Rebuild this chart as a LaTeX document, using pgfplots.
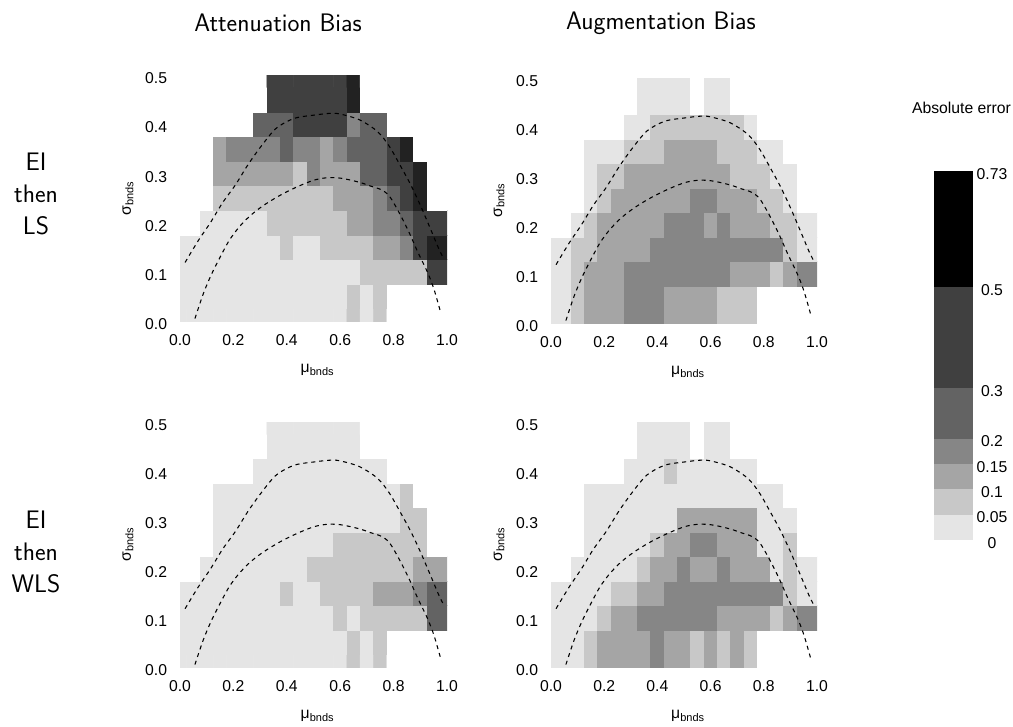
\documentclass[border=0pt]{standalone}
\usepackage{fontspec}
\setmainfont{Liberation Sans}
\usepackage{pgfplots}
\usepackage{pgfplotstable}
\pgfplotsset{compat=1.18}

\pgfplotstableread[row sep=\\]{
x y c\\
0 0 1\\0.05 0 1\\0.1 0 1\\0.15 0 1\\0.2 0 1\\0.25 0 1\\0.3 0 1\\0.35 0 1\\0.4 0 1\\0.45 0 1\\0.5 0 1\\0.55 0 1\\0.6 0 1\\0.65 0 2\\0.7 0 1\\0.75 0 2\\0.8 0 0\\0.85 0 0\\0.9 0 0\\0.95 0 0\\1 0 0\\
0 0.05 1\\0.05 0.05 1\\0.1 0.05 1\\0.15 0.05 1\\0.2 0.05 1\\0.25 0.05 1\\0.3 0.05 1\\0.35 0.05 1\\0.4 0.05 1\\0.45 0.05 1\\0.5 0.05 1\\0.55 0.05 1\\0.6 0.05 1\\0.65 0.05 2\\0.7 0.05 1\\0.75 0.05 2\\0.8 0.05 0\\0.85 0.05 0\\0.9 0.05 0\\0.95 0.05 0\\1 0.05 0\\
0 0.1 1\\0.05 0.1 1\\0.1 0.1 1\\0.15 0.1 1\\0.2 0.1 1\\0.25 0.1 1\\0.3 0.1 1\\0.35 0.1 1\\0.4 0.1 1\\0.45 0.1 1\\0.5 0.1 1\\0.55 0.1 1\\0.6 0.1 1\\0.65 0.1 1\\0.7 0.1 2\\0.75 0.1 2\\0.8 0.1 2\\0.85 0.1 2\\0.9 0.1 2\\0.95 0.1 6\\1 0.1 6\\
0 0.15 1\\0.05 0.15 1\\0.1 0.15 1\\0.15 0.15 1\\0.2 0.15 1\\0.25 0.15 1\\0.3 0.15 1\\0.35 0.15 1\\0.4 0.15 2\\0.45 0.15 1\\0.5 0.15 1\\0.55 0.15 2\\0.6 0.15 2\\0.65 0.15 2\\0.7 0.15 2\\0.75 0.15 3\\0.8 0.15 3\\0.85 0.15 4\\0.9 0.15 6\\0.95 0.15 7\\1 0.15 7\\
0 0.2 0\\0.05 0.2 0\\0.1 0.2 1\\0.15 0.2 1\\0.2 0.2 1\\0.25 0.2 1\\0.3 0.2 1\\0.35 0.2 2\\0.4 0.2 2\\0.45 0.2 2\\0.5 0.2 2\\0.55 0.2 2\\0.6 0.2 2\\0.65 0.2 3\\0.7 0.2 3\\0.75 0.2 4\\0.8 0.2 4\\0.85 0.2 5\\0.9 0.2 6\\0.95 0.2 6\\1 0.2 6\\
0 0.25 0\\0.05 0.25 0\\0.1 0.25 0\\0.15 0.25 2\\0.2 0.25 2\\0.25 0.25 2\\0.3 0.25 2\\0.35 0.25 2\\0.4 0.25 2\\0.45 0.25 2\\0.5 0.25 2\\0.55 0.25 2\\0.6 0.25 3\\0.65 0.25 3\\0.7 0.25 3\\0.75 0.25 4\\0.8 0.25 5\\0.85 0.25 6\\0.9 0.25 7\\0.95 0.25 0\\1 0.25 0\\
0 0.3 0\\0.05 0.3 0\\0.1 0.3 0\\0.15 0.3 3\\0.2 0.3 3\\0.25 0.3 3\\0.3 0.3 3\\0.35 0.3 3\\0.4 0.3 3\\0.45 0.3 2\\0.5 0.3 4\\0.55 0.3 3\\0.6 0.3 3\\0.65 0.3 3\\0.7 0.3 5\\0.75 0.3 5\\0.8 0.3 6\\0.85 0.3 6\\0.9 0.3 7\\0.95 0.3 0\\1 0.3 0\\
0 0.35 0\\0.05 0.35 0\\0.1 0.35 0\\0.15 0.35 3\\0.2 0.35 4\\0.25 0.35 4\\0.3 0.35 4\\0.35 0.35 4\\0.4 0.35 5\\0.45 0.35 4\\0.5 0.35 4\\0.55 0.35 3\\0.6 0.35 4\\0.65 0.35 5\\0.7 0.35 5\\0.75 0.35 5\\0.8 0.35 6\\0.85 0.35 7\\0.9 0.35 0\\0.95 0.35 0\\1 0.35 0\\
0 0.4 0\\0.05 0.4 0\\0.1 0.4 0\\0.15 0.4 0\\0.2 0.4 0\\0.25 0.4 0\\0.3 0.4 5\\0.35 0.4 5\\0.4 0.4 5\\0.45 0.4 6\\0.5 0.4 6\\0.55 0.4 6\\0.6 0.4 6\\0.65 0.4 4\\0.7 0.4 5\\0.75 0.4 5\\0.8 0.4 0\\0.85 0.4 0\\0.9 0.4 0\\0.95 0.4 0\\1 0.4 0\\
0 0.45 0\\0.05 0.45 0\\0.1 0.45 0\\0.15 0.45 0\\0.2 0.45 0\\0.25 0.45 0\\0.3 0.45 0\\0.35 0.45 6\\0.4 0.45 6\\0.45 0.45 6\\0.5 0.45 6\\0.55 0.45 6\\0.6 0.45 6\\0.65 0.45 7\\0.7 0.45 0\\0.75 0.45 0\\0.8 0.45 0\\0.85 0.45 0\\0.9 0.45 0\\0.95 0.45 0\\1 0.45 0\\
0 0.5 0\\0.05 0.5 0\\0.1 0.5 0\\0.15 0.5 0\\0.2 0.5 0\\0.25 0.5 0\\0.3 0.5 0\\0.35 0.5 6\\0.4 0.5 6\\0.45 0.5 6\\0.5 0.5 6\\0.55 0.5 6\\0.6 0.5 6\\0.65 0.5 7\\0.7 0.5 0\\0.75 0.5 0\\0.8 0.5 0\\0.85 0.5 0\\0.9 0.5 0\\0.95 0.5 0\\1 0.5 0\\
}\TLtab

\pgfplotstableread[row sep=\\]{
x y c\\
0 0 1\\0.05 0 1\\0.1 0 2\\0.15 0 3\\0.2 0 3\\0.25 0 3\\0.3 0 4\\0.35 0 4\\0.4 0 4\\0.45 0 3\\0.5 0 3\\0.55 0 3\\0.6 0 3\\0.65 0 2\\0.7 0 2\\0.75 0 2\\0.8 0 0\\0.85 0 0\\0.9 0 0\\0.95 0 0\\1 0 0\\
0 0.05 1\\0.05 0.05 1\\0.1 0.05 2\\0.15 0.05 3\\0.2 0.05 3\\0.25 0.05 3\\0.3 0.05 4\\0.35 0.05 4\\0.4 0.05 4\\0.45 0.05 3\\0.5 0.05 3\\0.55 0.05 3\\0.6 0.05 3\\0.65 0.05 2\\0.7 0.05 2\\0.75 0.05 2\\0.8 0.05 0\\0.85 0.05 0\\0.9 0.05 0\\0.95 0.05 0\\1 0.05 0\\
0 0.1 1\\0.05 0.1 1\\0.1 0.1 2\\0.15 0.1 3\\0.2 0.1 3\\0.25 0.1 3\\0.3 0.1 4\\0.35 0.1 4\\0.4 0.1 4\\0.45 0.1 4\\0.5 0.1 4\\0.55 0.1 4\\0.6 0.1 4\\0.65 0.1 4\\0.7 0.1 3\\0.75 0.1 3\\0.8 0.1 3\\0.85 0.1 2\\0.9 0.1 3\\0.95 0.1 4\\1 0.1 4\\
0 0.15 1\\0.05 0.15 1\\0.1 0.15 2\\0.15 0.15 2\\0.2 0.15 3\\0.25 0.15 3\\0.3 0.15 3\\0.35 0.15 3\\0.4 0.15 4\\0.45 0.15 4\\0.5 0.15 4\\0.55 0.15 4\\0.6 0.15 4\\0.65 0.15 4\\0.7 0.15 4\\0.75 0.15 4\\0.8 0.15 4\\0.85 0.15 4\\0.9 0.15 2\\0.95 0.15 1\\1 0.15 1\\
0 0.2 0\\0.05 0.2 0\\0.1 0.2 1\\0.15 0.2 2\\0.2 0.2 3\\0.25 0.2 3\\0.3 0.2 3\\0.35 0.2 3\\0.4 0.2 3\\0.45 0.2 4\\0.5 0.2 4\\0.55 0.2 4\\0.6 0.2 3\\0.65 0.2 4\\0.7 0.2 3\\0.75 0.2 3\\0.8 0.2 3\\0.85 0.2 2\\0.9 0.2 2\\0.95 0.2 1\\1 0.2 1\\
0 0.25 0\\0.05 0.25 0\\0.1 0.25 0\\0.15 0.25 1\\0.2 0.25 2\\0.25 0.25 3\\0.3 0.25 3\\0.35 0.25 3\\0.4 0.25 3\\0.45 0.25 3\\0.5 0.25 3\\0.55 0.25 4\\0.6 0.25 4\\0.65 0.25 3\\0.7 0.25 3\\0.75 0.25 3\\0.8 0.25 2\\0.85 0.25 2\\0.9 0.25 1\\0.95 0.25 0\\1 0.25 0\\
0 0.3 0\\0.05 0.3 0\\0.1 0.3 0\\0.15 0.3 1\\0.2 0.3 2\\0.25 0.3 2\\0.3 0.3 3\\0.35 0.3 3\\0.4 0.3 3\\0.45 0.3 3\\0.5 0.3 3\\0.55 0.3 3\\0.6 0.3 3\\0.65 0.3 3\\0.7 0.3 2\\0.75 0.3 2\\0.8 0.3 2\\0.85 0.3 1\\0.9 0.3 1\\0.95 0.3 0\\1 0.3 0\\
0 0.35 0\\0.05 0.35 0\\0.1 0.35 0\\0.15 0.35 1\\0.2 0.35 1\\0.25 0.35 1\\0.3 0.35 2\\0.35 0.35 2\\0.4 0.35 2\\0.45 0.35 3\\0.5 0.35 3\\0.55 0.35 3\\0.6 0.35 3\\0.65 0.35 2\\0.7 0.35 2\\0.75 0.35 2\\0.8 0.35 1\\0.85 0.35 1\\0.9 0.35 0\\0.95 0.35 0\\1 0.35 0\\
0 0.4 0\\0.05 0.4 0\\0.1 0.4 0\\0.15 0.4 0\\0.2 0.4 0\\0.25 0.4 0\\0.3 0.4 1\\0.35 0.4 1\\0.4 0.4 2\\0.45 0.4 2\\0.5 0.4 2\\0.55 0.4 2\\0.6 0.4 2\\0.65 0.4 2\\0.7 0.4 2\\0.75 0.4 1\\0.8 0.4 0\\0.85 0.4 0\\0.9 0.4 0\\0.95 0.4 0\\1 0.4 0\\
0 0.45 0\\0.05 0.45 0\\0.1 0.45 0\\0.15 0.45 0\\0.2 0.45 0\\0.25 0.45 0\\0.3 0.45 0\\0.35 0.45 1\\0.4 0.45 1\\0.45 0.45 1\\0.5 0.45 1\\0.55 0.45 0\\0.6 0.45 1\\0.65 0.45 1\\0.7 0.45 0\\0.75 0.45 0\\0.8 0.45 0\\0.85 0.45 0\\0.9 0.45 0\\0.95 0.45 0\\1 0.45 0\\
0 0.5 0\\0.05 0.5 0\\0.1 0.5 0\\0.15 0.5 0\\0.2 0.5 0\\0.25 0.5 0\\0.3 0.5 0\\0.35 0.5 1\\0.4 0.5 1\\0.45 0.5 1\\0.5 0.5 1\\0.55 0.5 0\\0.6 0.5 1\\0.65 0.5 1\\0.7 0.5 0\\0.75 0.5 0\\0.8 0.5 0\\0.85 0.5 0\\0.9 0.5 0\\0.95 0.5 0\\1 0.5 0\\
}\TRtab

\pgfplotstableread[row sep=\\]{
x y c\\
0 0 1\\0.05 0 1\\0.1 0 1\\0.15 0 1\\0.2 0 1\\0.25 0 1\\0.3 0 1\\0.35 0 1\\0.4 0 1\\0.45 0 1\\0.5 0 1\\0.55 0 1\\0.6 0 1\\0.65 0 2\\0.7 0 1\\0.75 0 2\\0.8 0 0\\0.85 0 0\\0.9 0 0\\0.95 0 0\\1 0 0\\
0 0.05 1\\0.05 0.05 1\\0.1 0.05 1\\0.15 0.05 1\\0.2 0.05 1\\0.25 0.05 1\\0.3 0.05 1\\0.35 0.05 1\\0.4 0.05 1\\0.45 0.05 1\\0.5 0.05 1\\0.55 0.05 1\\0.6 0.05 1\\0.65 0.05 2\\0.7 0.05 1\\0.75 0.05 2\\0.8 0.05 0\\0.85 0.05 0\\0.9 0.05 0\\0.95 0.05 0\\1 0.05 0\\
0 0.1 1\\0.05 0.1 1\\0.1 0.1 1\\0.15 0.1 1\\0.2 0.1 1\\0.25 0.1 1\\0.3 0.1 1\\0.35 0.1 1\\0.4 0.1 1\\0.45 0.1 1\\0.5 0.1 1\\0.55 0.1 1\\0.6 0.1 2\\0.65 0.1 1\\0.7 0.1 2\\0.75 0.1 2\\0.8 0.1 2\\0.85 0.1 2\\0.9 0.1 2\\0.95 0.1 5\\1 0.1 5\\
0 0.15 1\\0.05 0.15 1\\0.1 0.15 1\\0.15 0.15 1\\0.2 0.15 1\\0.25 0.15 1\\0.3 0.15 1\\0.35 0.15 1\\0.4 0.15 2\\0.45 0.15 1\\0.5 0.15 1\\0.55 0.15 2\\0.6 0.15 2\\0.65 0.15 2\\0.7 0.15 2\\0.75 0.15 3\\0.8 0.15 3\\0.85 0.15 3\\0.9 0.15 4\\0.95 0.15 5\\1 0.15 5\\
0 0.2 0\\0.05 0.2 0\\0.1 0.2 1\\0.15 0.2 1\\0.2 0.2 1\\0.25 0.2 1\\0.3 0.2 1\\0.35 0.2 1\\0.4 0.2 1\\0.45 0.2 1\\0.5 0.2 2\\0.55 0.2 2\\0.6 0.2 2\\0.65 0.2 2\\0.7 0.2 2\\0.75 0.2 2\\0.8 0.2 2\\0.85 0.2 2\\0.9 0.2 3\\0.95 0.2 3\\1 0.2 3\\
0 0.25 0\\0.05 0.25 0\\0.1 0.25 0\\0.15 0.25 1\\0.2 0.25 1\\0.25 0.25 1\\0.3 0.25 1\\0.35 0.25 1\\0.4 0.25 1\\0.45 0.25 1\\0.5 0.25 1\\0.55 0.25 1\\0.6 0.25 2\\0.65 0.25 2\\0.7 0.25 2\\0.75 0.25 2\\0.8 0.25 2\\0.85 0.25 2\\0.9 0.25 2\\0.95 0.25 0\\1 0.25 0\\
0 0.3 0\\0.05 0.3 0\\0.1 0.3 0\\0.15 0.3 1\\0.2 0.3 1\\0.25 0.3 1\\0.3 0.3 1\\0.35 0.3 1\\0.4 0.3 1\\0.45 0.3 1\\0.5 0.3 1\\0.55 0.3 1\\0.6 0.3 1\\0.65 0.3 1\\0.7 0.3 1\\0.75 0.3 1\\0.8 0.3 1\\0.85 0.3 2\\0.9 0.3 2\\0.95 0.3 0\\1 0.3 0\\
0 0.35 0\\0.05 0.35 0\\0.1 0.35 0\\0.15 0.35 1\\0.2 0.35 1\\0.25 0.35 1\\0.3 0.35 1\\0.35 0.35 1\\0.4 0.35 1\\0.45 0.35 1\\0.5 0.35 1\\0.55 0.35 1\\0.6 0.35 1\\0.65 0.35 1\\0.7 0.35 1\\0.75 0.35 1\\0.8 0.35 1\\0.85 0.35 2\\0.9 0.35 0\\0.95 0.35 0\\1 0.35 0\\
0 0.4 0\\0.05 0.4 0\\0.1 0.4 0\\0.15 0.4 0\\0.2 0.4 0\\0.25 0.4 0\\0.3 0.4 1\\0.35 0.4 1\\0.4 0.4 1\\0.45 0.4 1\\0.5 0.4 1\\0.55 0.4 1\\0.6 0.4 1\\0.65 0.4 1\\0.7 0.4 1\\0.75 0.4 1\\0.8 0.4 0\\0.85 0.4 0\\0.9 0.4 0\\0.95 0.4 0\\1 0.4 0\\
0 0.45 0\\0.05 0.45 0\\0.1 0.45 0\\0.15 0.45 0\\0.2 0.45 0\\0.25 0.45 0\\0.3 0.45 0\\0.35 0.45 1\\0.4 0.45 1\\0.45 0.45 1\\0.5 0.45 1\\0.55 0.45 1\\0.6 0.45 1\\0.65 0.45 1\\0.7 0.45 0\\0.75 0.45 0\\0.8 0.45 0\\0.85 0.45 0\\0.9 0.45 0\\0.95 0.45 0\\1 0.45 0\\
0 0.5 0\\0.05 0.5 0\\0.1 0.5 0\\0.15 0.5 0\\0.2 0.5 0\\0.25 0.5 0\\0.3 0.5 0\\0.35 0.5 1\\0.4 0.5 1\\0.45 0.5 1\\0.5 0.5 1\\0.55 0.5 1\\0.6 0.5 1\\0.65 0.5 1\\0.7 0.5 0\\0.75 0.5 0\\0.8 0.5 0\\0.85 0.5 0\\0.9 0.5 0\\0.95 0.5 0\\1 0.5 0\\
}\BLtab

\pgfplotstableread[row sep=\\]{
x y c\\
0 0 1\\0.05 0 1\\0.1 0 1\\0.15 0 2\\0.2 0 3\\0.25 0 3\\0.3 0 3\\0.35 0 3\\0.4 0 4\\0.45 0 3\\0.5 0 3\\0.55 0 2\\0.6 0 3\\0.65 0 2\\0.7 0 3\\0.75 0 2\\0.8 0 0\\0.85 0 0\\0.9 0 0\\0.95 0 0\\1 0 0\\
0 0.05 1\\0.05 0.05 1\\0.1 0.05 1\\0.15 0.05 2\\0.2 0.05 3\\0.25 0.05 3\\0.3 0.05 3\\0.35 0.05 3\\0.4 0.05 4\\0.45 0.05 3\\0.5 0.05 3\\0.55 0.05 2\\0.6 0.05 3\\0.65 0.05 2\\0.7 0.05 3\\0.75 0.05 2\\0.8 0.05 0\\0.85 0.05 0\\0.9 0.05 0\\0.95 0.05 0\\1 0.05 0\\
0 0.1 1\\0.05 0.1 1\\0.1 0.1 1\\0.15 0.1 1\\0.2 0.1 2\\0.25 0.1 3\\0.3 0.1 3\\0.35 0.1 4\\0.4 0.1 4\\0.45 0.1 4\\0.5 0.1 4\\0.55 0.1 4\\0.6 0.1 4\\0.65 0.1 3\\0.7 0.1 3\\0.75 0.1 3\\0.8 0.1 3\\0.85 0.1 2\\0.9 0.1 3\\0.95 0.1 4\\1 0.1 4\\
0 0.15 1\\0.05 0.15 1\\0.1 0.15 1\\0.15 0.15 1\\0.2 0.15 1\\0.25 0.15 2\\0.3 0.15 2\\0.35 0.15 3\\0.4 0.15 3\\0.45 0.15 4\\0.5 0.15 4\\0.55 0.15 4\\0.6 0.15 4\\0.65 0.15 4\\0.7 0.15 4\\0.75 0.15 4\\0.8 0.15 4\\0.85 0.15 4\\0.9 0.15 2\\0.95 0.15 1\\1 0.15 1\\
0 0.2 0\\0.05 0.2 0\\0.1 0.2 1\\0.15 0.2 1\\0.2 0.2 1\\0.25 0.2 1\\0.3 0.2 1\\0.35 0.2 2\\0.4 0.2 3\\0.45 0.2 3\\0.5 0.2 4\\0.55 0.2 3\\0.6 0.2 3\\0.65 0.2 4\\0.7 0.2 3\\0.75 0.2 3\\0.8 0.2 3\\0.85 0.2 1\\0.9 0.2 2\\0.95 0.2 1\\1 0.2 1\\
0 0.25 0\\0.05 0.25 0\\0.1 0.25 0\\0.15 0.25 1\\0.2 0.25 1\\0.25 0.25 1\\0.3 0.25 1\\0.35 0.25 1\\0.4 0.25 2\\0.45 0.25 3\\0.5 0.25 3\\0.55 0.25 4\\0.6 0.25 4\\0.65 0.25 3\\0.7 0.25 3\\0.75 0.25 3\\0.8 0.25 1\\0.85 0.25 1\\0.9 0.25 2\\0.95 0.25 0\\1 0.25 0\\
0 0.3 0\\0.05 0.3 0\\0.1 0.3 0\\0.15 0.3 1\\0.2 0.3 1\\0.25 0.3 1\\0.3 0.3 1\\0.35 0.3 1\\0.4 0.3 1\\0.45 0.3 1\\0.5 0.3 3\\0.55 0.3 3\\0.6 0.3 3\\0.65 0.3 3\\0.7 0.3 3\\0.75 0.3 3\\0.8 0.3 1\\0.85 0.3 1\\0.9 0.3 1\\0.95 0.3 0\\1 0.3 0\\
0 0.35 0\\0.05 0.35 0\\0.1 0.35 0\\0.15 0.35 1\\0.2 0.35 1\\0.25 0.35 1\\0.3 0.35 1\\0.35 0.35 1\\0.4 0.35 1\\0.45 0.35 1\\0.5 0.35 1\\0.55 0.35 1\\0.6 0.35 1\\0.65 0.35 1\\0.7 0.35 1\\0.75 0.35 1\\0.8 0.35 1\\0.85 0.35 1\\0.9 0.35 0\\0.95 0.35 0\\1 0.35 0\\
0 0.4 0\\0.05 0.4 0\\0.1 0.4 0\\0.15 0.4 0\\0.2 0.4 0\\0.25 0.4 0\\0.3 0.4 1\\0.35 0.4 1\\0.4 0.4 1\\0.45 0.4 2\\0.5 0.4 1\\0.55 0.4 1\\0.6 0.4 1\\0.65 0.4 1\\0.7 0.4 1\\0.75 0.4 1\\0.8 0.4 0\\0.85 0.4 0\\0.9 0.4 0\\0.95 0.4 0\\1 0.4 0\\
0 0.45 0\\0.05 0.45 0\\0.1 0.45 0\\0.15 0.45 0\\0.2 0.45 0\\0.25 0.45 0\\0.3 0.45 0\\0.35 0.45 1\\0.4 0.45 1\\0.45 0.45 1\\0.5 0.45 1\\0.55 0.45 0\\0.6 0.45 1\\0.65 0.45 1\\0.7 0.45 0\\0.75 0.45 0\\0.8 0.45 0\\0.85 0.45 0\\0.9 0.45 0\\0.95 0.45 0\\1 0.45 0\\
0 0.5 0\\0.05 0.5 0\\0.1 0.5 0\\0.15 0.5 0\\0.2 0.5 0\\0.25 0.5 0\\0.3 0.5 0\\0.35 0.5 1\\0.4 0.5 1\\0.45 0.5 1\\0.5 0.5 1\\0.55 0.5 0\\0.6 0.5 1\\0.65 0.5 1\\0.7 0.5 0\\0.75 0.5 0\\0.8 0.5 0\\0.85 0.5 0\\0.9 0.5 0\\0.95 0.5 0\\1 0.5 0\\
}\BRtab

\pgfplotstableread{
x y
0.019 0.119
0.068 0.163
0.114 0.200
0.159 0.240
0.208 0.277
0.255 0.318
0.305 0.356
0.361 0.392
0.429 0.412
0.510 0.419
0.560 0.422
0.597 0.421
0.672 0.409
0.740 0.385
0.784 0.355
0.827 0.314
0.864 0.277
0.902 0.233
0.939 0.186
0.970 0.146
0.989 0.1255
}\outer

\pgfplotstableread{
x y
0.056 0.005
0.087 0.055
0.118 0.095
0.162 0.142
0.187 0.166
0.220 0.190
0.255 0.210
0.290 0.226
0.330 0.241
0.380 0.257
0.440 0.273
0.500 0.286
0.547 0.291
0.591 0.291
0.634 0.287
0.678 0.281
0.715 0.274
0.753 0.267
0.784 0.254
0.821 0.220
0.858 0.180
0.889 0.142
0.927 0.099
0.951 0.065
0.976 0.018
}\inner

\newcommand\lab{\fontsize{11.8}{14}\selectfont}

\pgfplotsset{
  hm/.style={
    anchor=south west, scale only axis,
    xmin=0, xmax=1, ymin=0, ymax=0.5,
    axis line style={draw=none}, major tick length=0pt,
    xtick={0,0.2,0.4,0.6,0.8,1}, xticklabels={0.0,0.2,0.4,0.6,0.8,1.0},
    ytick={0,0.1,0.2,0.3,0.4,0.5}, yticklabels={0.0,0.1,0.2,0.3,0.4,0.5},
    tick label style={font=\lab},
    xticklabel style={yshift=-6.5pt},
    yticklabel style={xshift=-6.2pt, yshift=-2.5pt},
    xlabel={μ\textsubscript{bnds}}, ylabel={σ\textsubscript{bnds}},
    label style={font=\lab},
    xlabel style={at={(axis description cs:0.515,-0.2)}, anchor=center},
    ylabel style={at={(axis description cs:-0.195,0.5)}, anchor=center},
    colormap={bw}{rgb255=(255,255,255) rgb255=(229,229,229) rgb255=(200,200,200) rgb255=(165,165,165) rgb255=(134,134,134) rgb255=(99,99,99) rgb255=(64,64,64) rgb255=(34,34,34) rgb255=(0,0,0)},
    colormap access=direct,
    point meta min=0, point meta max=8,
  },
  cell/.style={matrix plot*, mesh/cols=21, point meta=explicit},
  bnd/.style={black, line width=0.8pt, dash pattern=on 3pt off 3pt, smooth, tension=0.5},
}

\begin{document}
\begin{tikzpicture}
\path[use as bounding box] (0,0) rectangle (759.75pt,544.5pt);

\begin{axis}[hm, at={(135pt,303.75pt)}, width=200.25pt, height=184.5pt]
\addplot[cell] table[x=x, y=y, meta=c] {\TLtab};
\addplot[bnd] table {\outer};
\addplot[bnd] table {\inner};
\end{axis}

\begin{axis}[hm, at={(413.25pt,302.25pt)}, width=199.5pt, height=183.75pt]
\addplot[cell] table[x=x, y=y, meta=c] {\TRtab};
\addplot[bnd] table {\outer};
\addplot[bnd] table {\inner};
\end{axis}

\begin{axis}[hm, at={(135pt,44.25pt)}, width=200.25pt, height=183.75pt]
\addplot[cell] table[x=x, y=y, meta=c] {\BLtab};
\addplot[bnd] table {\outer};
\addplot[bnd] table {\inner};
\end{axis}

\begin{axis}[hm, at={(413.25pt,44.25pt)}, width=199.5pt, height=183.75pt]
\addplot[cell] table[x=x, y=y, meta=c] {\BRtab};
\addplot[bnd] table {\outer};
\addplot[bnd] table {\inner};
\end{axis}

\begin{axis}[anchor=south west, at={(700.5pt,139.5pt)}, scale only axis, width=29.25pt, height=276.75pt,
  xmin=0, xmax=1, ymin=0, ymax=0.73, axis line style={draw=none}, major tick length=0pt,
  xtick=\empty, ytick={0,0.05,0.1,0.15,0.2,0.3,0.5,0.73},
  yticklabels={0,0.05,0.1,0.15,0.2,0.3,0.5,0.73},
  yticklabel pos=right,
  yticklabel style={anchor=center, xshift=14.25pt, yshift=-2pt, font=\lab}]
\addplot[fill=black, draw=none] coordinates {(0,0.73) (1,0.73)} \closedcycle;
\addplot[fill={rgb,255:red,64;green,64;blue,64}, draw=none] coordinates {(0,0.5) (1,0.5)} \closedcycle;
\addplot[fill={rgb,255:red,99;green,99;blue,99}, draw=none] coordinates {(0,0.3) (1,0.3)} \closedcycle;
\addplot[fill={rgb,255:red,134;green,134;blue,134}, draw=none] coordinates {(0,0.2) (1,0.2)} \closedcycle;
\addplot[fill={rgb,255:red,165;green,165;blue,165}, draw=none] coordinates {(0,0.15) (1,0.15)} \closedcycle;
\addplot[fill={rgb,255:red,200;green,200;blue,200}, draw=none] coordinates {(0,0.1) (1,0.1)} \closedcycle;
\addplot[fill={rgb,255:red,229;green,229;blue,229}, draw=none] coordinates {(0,0.05) (1,0.05)} \closedcycle;
\end{axis}

\node[font=\sffamily\fontsize{19}{23}\selectfont, anchor=base] at (208.5pt,520.7pt) {Attenuation Bias};
\node[font=\sffamily\fontsize{19}{23}\selectfont, anchor=base] at (495.75pt,522pt) {Augmentation Bias};
\node[font=\sffamily\fontsize{19}{23.8}\selectfont, align=center, anchor=center] at (27pt,399pt) {EI\\then\\LS};
\node[font=\sffamily\fontsize{19}{23.8}\selectfont, align=center, anchor=center] at (27pt,130.5pt) {EI\\then\\WLS};
\node[font=\lab, anchor=base] at (721.1pt,459pt) {Absolute error};
\end{tikzpicture}
\end{document}
